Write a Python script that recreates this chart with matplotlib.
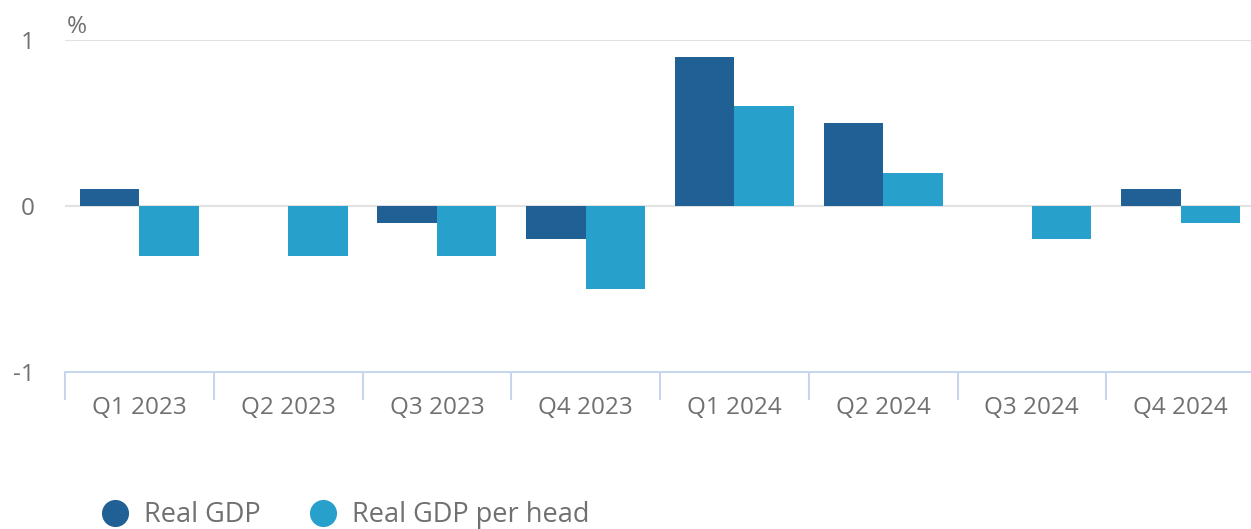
import numpy as np
import matplotlib.pyplot as plt
from matplotlib.lines import Line2D

quarters = ["Q1 2023", "Q2 2023", "Q3 2023", "Q4 2023",
            "Q1 2024", "Q2 2024", "Q3 2024", "Q4 2024"]
real_gdp = [0.1, 0.0, -0.1, -0.2, 0.9, 0.5, 0.0, 0.1]
gdp_per_head = [-0.3, -0.3, -0.3, -0.5, 0.6, 0.2, -0.2, -0.1]
series_names = ["Real GDP", "Real GDP per head"]
yticks = [-1, 0, 1]

dark = "#206095"
light = "#27a0cc"
text_grey = "#707070"

plt.rcParams["font.family"] = ["Open Sans", "DejaVu Sans"]

fig = plt.figure(figsize=(12.51, 5.29), dpi=100)
ax = fig.add_axes([65 / 1251, 1 - 372 / 529, 1190 / 1251, 332 / 529])

x = np.arange(len(quarters))
w = 0.4
ax.bar(x - w / 2, real_gdp, w, color=dark, zorder=3)
ax.bar(x + w / 2, gdp_per_head, w, color=light, zorder=3)

ax.set_xlim(-0.5, len(quarters) - 0.5)
ax.set_ylim(-1, 1)
ax.set_yticks(yticks)
ax.set_yticklabels([str(t) for t in yticks])
for t in [0, 1]:
    ax.axhline(t, color="#e2e2e2", lw=1.5, zorder=1)

ax.set_xticks(x)
ax.set_xticklabels(quarters)
ax.set_xticks(np.arange(-0.5, len(quarters), 1), minor=True)
ax.tick_params(axis="x", which="major", length=0, pad=17, labelsize=17.5, labelcolor=text_grey)
ax.tick_params(axis="x", which="minor", length=20, width=1.5, color="#c8d6ec")
ax.tick_params(axis="y", length=0, pad=22, labelsize=17.5, labelcolor=text_grey)
for lab in ax.get_yticklabels():
    lab.set_horizontalalignment("right")

for s in ["top", "right", "left"]:
    ax.spines[s].set_visible(False)
ax.spines["bottom"].set_color("#c8d6ec")
ax.spines["bottom"].set_linewidth(1.5)

fig.text(67 / 1251, 1 - 27 / 529, "%", fontsize=17.5, color=text_grey, va="center")

handles = [Line2D([], [], marker="o", ls="", markersize=18.5, color=c) for c in (dark, light)]
fig.legend(handles, series_names, loc="center left", bbox_to_anchor=(88 / 1251, 1 - 515 / 529),
           frameon=False, ncol=2, fontsize=19.5, labelcolor=text_grey, handlelength=1.2,
           handletextpad=0.48, columnspacing=1.7, borderaxespad=0)

fig.savefig("out.png", dpi=100)
